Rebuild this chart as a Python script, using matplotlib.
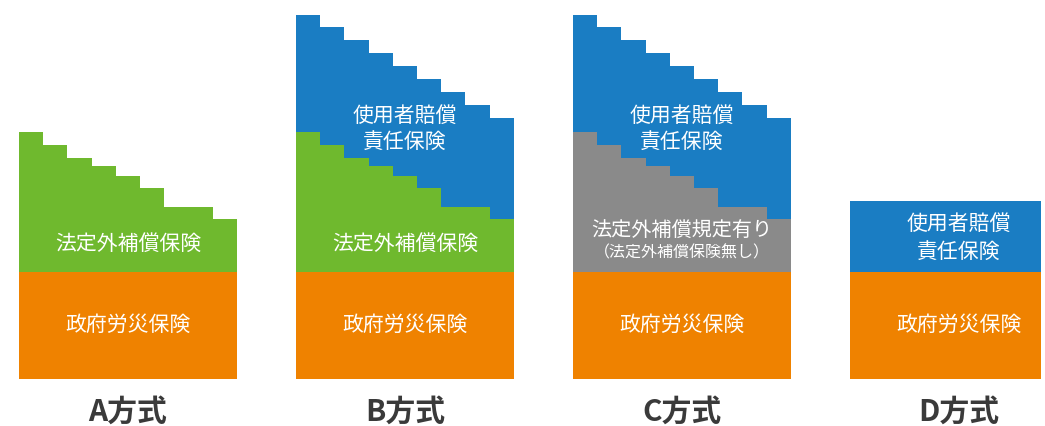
import numpy as np
import matplotlib
matplotlib.use("Agg")
import matplotlib.pyplot as plt

plt.rcParams['font.family'] = ['Noto Sans CJK JP', 'DejaVu Sans']

# Scheme names and layer labels
schemes = ["A方式", "B方式", "C方式", "D方式"]
label_gov = "政府労災保険"
label_extra = "法定外補償保険"
label_rule = "法定外補償規定有り"
label_rule_sub = "（法定外補償保険無し）"
label_emp = ["使用者賠償", "責任保険"]

# Layer heights (arbitrary units)
gov_height = 107.5                                    # orange base, same for every scheme
extra_steps = [140, 127, 114, 106, 96, 84, 65, 65, 53]  # green / gray staircase on top of base
emp_steps = [116.5, 117.2, 117.5, 112.2, 109.5, 108.2, 114.8, 101.5, 100.8]  # blue staircase
emp_flat_d = 70.5                                     # blue block in D scheme

# Colours
ORANGE = "#ef8200"
GREEN = "#6fb92e"
BLUE = "#1a7dc3"
GRAY = "#8a8a8a"
DARK = "#3a3a3a"

fig = plt.figure(figsize=(10.45, 4.26), dpi=100)
ax = fig.add_axes([0, 0, 1, 1])
ax.set_xlim(0, 1045)
ax.set_ylim(-47, 379)
ax.axis("off")

x_start = 19
group_gap = 277
step_w = 24.2
n = len(extra_steps)
gov = np.full(n, gov_height)
extra_top = gov + np.array(extra_steps)
emp_top = extra_top + np.array(emp_steps)

for i, name in enumerate(schemes):
    x0 = x_start + group_gap * i
    cx = x0 + n * step_w / 2
    edges = x0 + np.arange(n + 1) * step_w

    if name == "D方式":
        d_edges = [x0, x0 + 191]
        ax.stairs([gov_height], d_edges, baseline=0, fill=True, color=ORANGE)
        ax.stairs([gov_height + emp_flat_d], d_edges, baseline=gov_height, fill=True, color=BLUE)
        ax.text(cx, 155, label_emp[0], color="white", fontsize=15, ha="center", va="center")
        ax.text(cx, 127, label_emp[1], color="white", fontsize=15, ha="center", va="center")
    else:
        ax.stairs(gov, edges, baseline=0, fill=True, color=ORANGE)
        mid_color = GRAY if name == "C方式" else GREEN
        ax.stairs(extra_top, edges, baseline=gov, fill=True, color=mid_color)
        if name in ("B方式", "C方式"):
            ax.stairs(emp_top, edges, baseline=extra_top, fill=True, color=BLUE)
            ax.text(cx, 263, label_emp[0], color="white", fontsize=15, ha="center", va="center")
            ax.text(cx, 237, label_emp[1], color="white", fontsize=15, ha="center", va="center")
        if name == "C方式":
            ax.text(cx, 148, label_rule, color="white", fontsize=14.5, ha="center", va="center")
            ax.text(cx, 126, label_rule_sub, color="white", fontsize=11.5, ha="center", va="center")
        else:
            ax.text(cx, 135, label_extra, color="white", fontsize=15, ha="center", va="center")

    ax.text(cx, gov_height / 2, label_gov, color="white", fontsize=15, ha="center", va="center")
    ax.text(cx, -32.5, name, color=DARK, fontsize=21.5, fontweight="bold", ha="center", va="center")

fig.savefig("out.png", dpi=100, facecolor="white")
